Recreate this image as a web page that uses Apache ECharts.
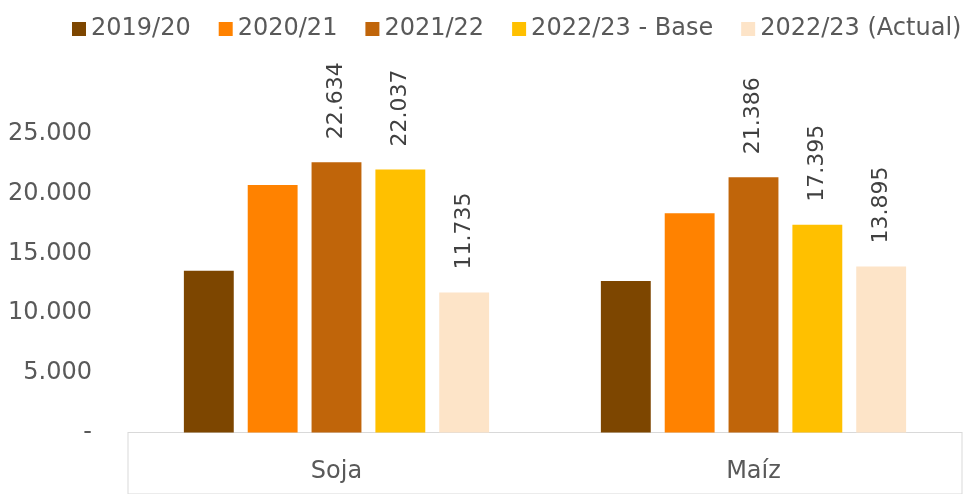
<!DOCTYPE html>
<html>
<head>
<meta charset="utf-8">
<script src="https://cdn.jsdelivr.net/npm/echarts@6/dist/echarts.min.js"></script>
<style>
html,body{margin:0;padding:0;background:#fff;}
#chart{width:969px;height:494px;}
</style>
</head>
<body>
<div id="chart"></div>
<script>
var categories = ['Soja', 'Maíz'];
var seriesNames = ['2019/20', '2020/21', '2021/22', '2022/23 - Base', '2022/23 (Actual)'];
var v1920 = [13550, 12690];
var v2021 = [20730, 18360];
var v2122 = [22634, 21386];
var v2223Base = [22037, 17395];
var v2223Actual = [11735, 13895];
var yTicks = [0, 5000, 10000, 15000, 20000, 25000];

var colors = ['#7D4600', '#FF8200', '#C0650A', '#FFC000', '#FDE4C8'];
var FONT = '"DejaVu Sans", sans-serif';

function fmt(v) {
  if (v === 0) return '-';
  return String(Math.round(v)).replace(/\B(?=(\d{3})+(?!\d))/g, '.');
}

var allValues = [v1920, v2021, v2122, v2223Base, v2223Actual];
var labelled = [false, false, true, true, true];

var series = allValues.map(function (vals, i) {
  return {
    name: seriesNames[i],
    type: 'bar',
    data: vals,
    barGap: '28%',
    barCategoryGap: '26.8%',
    itemStyle: { color: colors[i] },
    label: {
      show: labelled[i],
      position: 'top',
      rotate: 90,
      align: 'left',
      verticalAlign: 'middle',
      distance: 23,
      fontFamily: FONT,
      fontSize: 22,
      color: '#404040',
      formatter: function (p) { return fmt(p.value); }
    }
  };
});

var chart = echarts.init(document.getElementById('chart'), null, { renderer: 'canvas' });
chart.setOption({
  animation: false,
  backgroundColor: '#ffffff',
  legend: {
    data: seriesNames,
    left: 67,
    top: 12,
    icon: 'rect',
    itemWidth: 14,
    itemHeight: 14,
    itemGap: 28,
    textStyle: { fontFamily: FONT, fontSize: 24, color: '#595959' }
  },
  grid: [
    { left: 128, right: 7, top: 134, bottom: 61.5, containLabel: false },
    { left: 128, right: 7, top: 432.5, bottom: -5, show: true, borderColor: '#d9d9d9', borderWidth: 1, backgroundColor: 'transparent' }
  ],
  xAxis: [
    {
      type: 'category',
      data: categories,
      gridIndex: 0,
      axisLine: { show: true, lineStyle: { color: '#d9d9d9', width: 1 } },
      axisTick: { show: false },
      axisLabel: { fontFamily: FONT, fontSize: 24, color: '#595959', margin: 27 }
    },
    { type: 'category', gridIndex: 1, show: false, data: categories }
  ],
  yAxis: [
    {
      type: 'value',
      gridIndex: 0,
      min: yTicks[0],
      max: yTicks[yTicks.length - 1],
      interval: yTicks[1] - yTicks[0],
      splitLine: { show: false },
      axisLine: { show: false },
      axisTick: { show: false },
      axisLabel: { fontFamily: FONT, fontSize: 24, color: '#595959', margin: 36, formatter: fmt }
    },
    { type: 'value', gridIndex: 1, show: false }
  ],
  series: series
});
</script>
</body>
</html>
